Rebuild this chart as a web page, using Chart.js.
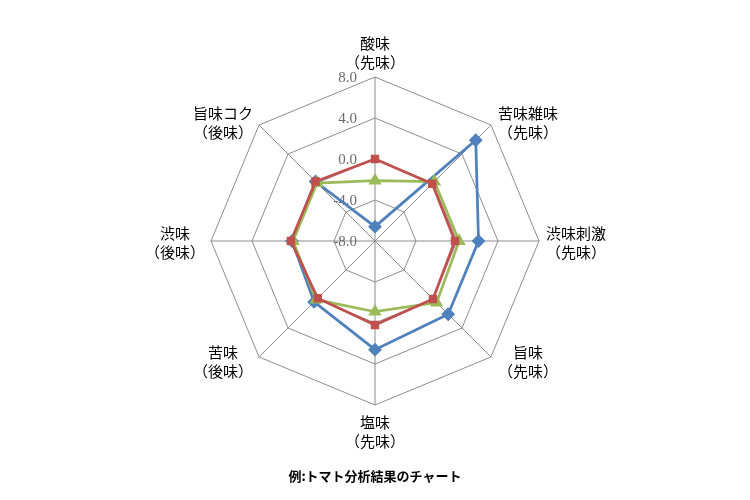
<!DOCTYPE html>
<html>
<head>
<meta charset="utf-8">
<script src="https://cdn.jsdelivr.net/npm/chart.js@4"></script>
<style>
  html, body { margin:0; padding:0; background:#fff; }
  #wrap { width:750px; height:500px; }
</style>
</head>
<body>
<div id="wrap"><canvas id="radar" width="750" height="500"></canvas></div>
<script>
// トマト分析結果
const labels = [
  ['酸味', '（先味）'],
  ['苦味雑味', '（先味）'],
  ['渋味刺激', '（先味）'],
  ['旨味', '（先味）'],
  ['塩味', '（先味）'],
  ['苦味', '（後味）'],
  ['渋味', '（後味）'],
  ['旨味コク', '（後味）'],
];
const blueValues  = [-6.6, 5.9, 2.1, 2.1, 2.6, 0.4, 0.1, 0.2];
const redValues   = [0.0, -0.1, -0.2, 0.0, 0.2, -0.1, 0.2, 0.2];
const greenValues = [-2.1, 0.2, 0.2, 0.5, -1.1, 0.1, 0.0, 0.0];
const tickMin = -8, tickMax = 8, tickStep = 4;

// 目盛ラベルは軸の左側に描く
const tickLabelPlugin = {
  id: 'tickLabels',
  beforeDatasetsDraw(chart) {
    const s = chart.scales.r;
    const ctx = chart.ctx;
    ctx.save();
    ctx.font = '15px "Liberation Serif"';
    ctx.fillStyle = '#6a6a6a';
    ctx.textAlign = 'right';
    ctx.textBaseline = 'middle';
    s.ticks.forEach(t => {
      const y = s.yCenter - s.getDistanceFromCenterForValue(t.value);
      ctx.fillText(t.value.toFixed(1), s.xCenter - 18, y + 1);
    });
    ctx.restore();
  }
};

// 項目ラベル（Excel風の配置）
const pointLabelPlugin = {
  id: 'pointLabelsExcel',
  afterDraw(chart) {
    const s = chart.scales.r;
    const ctx = chart.ctx;
    const lh = 19;
    ctx.save();
    ctx.font = '15px "Noto Sans CJK JP"';
    ctx.fillStyle = '#000';
    ctx.textAlign = 'center';
    ctx.textBaseline = 'middle';
    chart.data.labels.forEach((lines, i) => {
      const p = s.getPointPosition(i, s.drawingArea);
      const dx = (p.x - s.xCenter) / s.drawingArea;
      const dy = (p.y - s.yCenter) / s.drawingArea;
      const w = Math.max(...lines.map(l => ctx.measureText(l).width));
      let cx, firstY;
      if (Math.abs(dx) < 0.01) {
        cx = p.x;
        firstY = dy < 0 ? p.y - 15 - lh * (lines.length - 1) : p.y + 17;
      } else {
        cx = dx > 0 ? p.x + 7 + w / 2 : p.x - 6 - w / 2;
        const cy = p.y + 1.5 + 5 * dy;
        firstY = cy - lh * (lines.length - 1) / 2;
      }
      lines.forEach((l, k) => ctx.fillText(l, cx, firstY + k * lh));
    });
    ctx.restore();
  }
};

const ds = (data, color, style, r) => ({
  data,
  borderColor: color,
  backgroundColor: 'transparent',
  pointBackgroundColor: color,
  pointBorderColor: color,
  pointStyle: style,
  pointRadius: r,
  borderWidth: 2.75,
  fill: false,
});

new Chart(document.getElementById('radar'), {
  type: 'radar',
  data: {
    labels,
    datasets: [
      ds(redValues, '#c0504d', 'rect', 4),
      ds(greenValues, '#9bbb59', 'triangle', 5),
      ds(blueValues, '#4f81bd', 'rectRot', 5),
    ]
  },
  options: {
    responsive: false,
    animation: false,
    layout: { padding: { top: 77, bottom: 0 } },
    elements: { line: { tension: 0 } },
    scales: {
      r: {
        min: tickMin, max: tickMax,
        ticks: { stepSize: tickStep, display: false },
        grid: { color: '#8c8c8c', lineWidth: 1 },
        angleLines: { color: '#8c8c8c', lineWidth: 1 },
        pointLabels: { display: false }
      }
    },
    plugins: {
      legend: { display: false },
      tooltip: { enabled: false },
      title: {
        display: true,
        position: 'bottom',
        text: '例:トマト分析結果のチャート',
        color: '#000',
        font: { family: '"Noto Sans CJK JP"', size: 13, weight: 'bold' },
        padding: { top: 63, bottom: 16 }
      }
    }
  },
  plugins: [tickLabelPlugin, pointLabelPlugin]
});
</script>
</body>
</html>
